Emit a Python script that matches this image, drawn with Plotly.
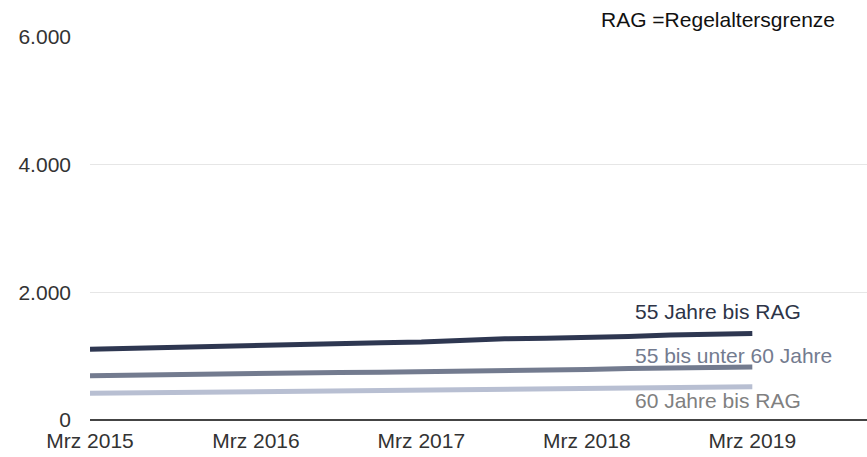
import plotly.graph_objects as go

dates = ["2015-03-01", "2015-06-01", "2015-09-01", "2015-12-01",
         "2016-03-01", "2016-06-01", "2016-09-01", "2016-12-01",
         "2017-03-01", "2017-06-01", "2017-09-01", "2017-12-01",
         "2018-03-01", "2018-06-01", "2018-09-01", "2018-12-01",
         "2019-03-01"]

s55_rag = [1108, 1125, 1140, 1150, 1160, 1180, 1200, 1210, 1220, 1255, 1272, 1280, 1290, 1310, 1330, 1345, 1355]
s55_60 = [694, 705, 715, 720, 728, 738, 746, 750, 755, 768, 778, 785, 792, 805, 815, 825, 832]
s60_rag = [418, 425, 430, 433, 437, 443, 450, 455, 460, 470, 478, 483, 488, 500, 508, 515, 520]

series_names = ["55 Jahre bis RAG", "55 bis unter 60 Jahre", "60 Jahre bis RAG"]
line_colors = ["#2e3751", "#737b8f", "#b8bfd2"]
label_colors = ["#2d3447", "#737b8f", "#808080"]
label_y = [1692, 1003, 298]

tick_vals = ["2015-03-01", "2016-03-01", "2017-03-01", "2018-03-01", "2019-03-01"]
tick_text = ["Mrz 2015", "Mrz 2016", "Mrz 2017", "Mrz 2018", "Mrz 2019"]
y_ticks = [0, 2000, 4000, 6000]
y_text = ["0", "2.000", "4.000", "6.000"]

FONT = "Liberation Sans, Arial, sans-serif"
FS = 21

fig = go.Figure()
for vals, name, col in zip([s55_rag, s55_60, s60_rag], series_names, line_colors):
    fig.add_trace(go.Scatter(x=dates, y=vals, mode="lines", name=name,
                             line=dict(color=col, width=5), hoverinfo="skip"))

for name, col, yv in zip(series_names, label_colors, label_y):
    fig.add_annotation(x=0.699, xref="paper", y=yv, yref="y", text=name,
                       showarrow=False, xanchor="left", yanchor="middle",
                       font=dict(family=FONT, size=FS, color=col))

fig.add_annotation(x=0.9614, xref="paper", y=1, yref="paper", yshift=18,
                   text="RAG =Regelaltersgrenze", showarrow=False,
                   xanchor="right", yanchor="middle",
                   font=dict(family=FONT, size=FS, color="#111111"))

fig.update_layout(
    width=867, height=457,
    margin=dict(l=90, r=0, t=37, b=37),
    paper_bgcolor="white", plot_bgcolor="white",
    showlegend=False,
    font=dict(family=FONT, size=FS, color="#333333"),
    xaxis=dict(type="date", range=["2015-03-01", "2019-11-09"],
               tickvals=tick_vals, ticktext=tick_text, showgrid=False,
               showline=False, zeroline=False, ticks="",
               ticklabelstandoff=6,
               tickfont=dict(size=FS, color="#333333")),
    yaxis=dict(range=[0, 6000], tickvals=y_ticks, ticktext=y_text,
               showgrid=True, gridcolor="#e6e6e6", gridwidth=1,
               zeroline=True, zerolinecolor="#444444", zerolinewidth=2,
               ticks="", ticklabelstandoff=18,
               tickfont=dict(size=FS, color="#333333")),
)

fig.write_html("out.html", config={"displayModeBar": False},
               post_script="document.body.style.margin='0';document.body.style.overflow='hidden';")
